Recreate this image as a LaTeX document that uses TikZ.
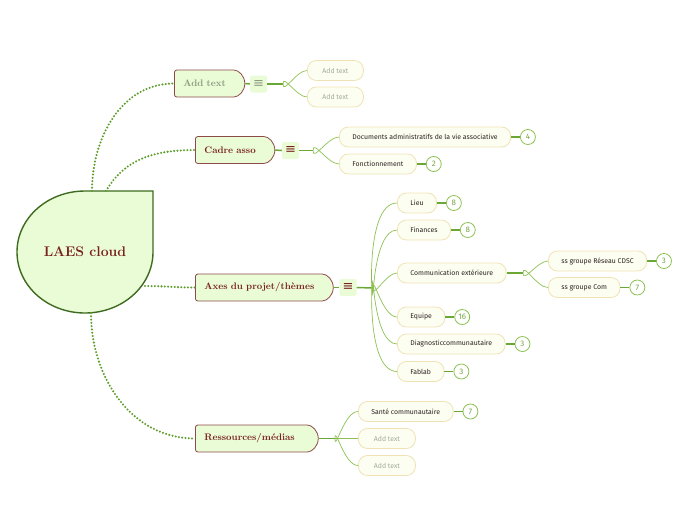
\documentclass[tikz,border=0pt]{standalone}
\usepackage{fontspec}
\setsansfont{Fira Sans}
\newfontfamily\symfont{DejaVu Sans}
\usetikzlibrary{positioning,shapes.misc}
\definecolor{leafgreen}{HTML}{E9FCD6}
\definecolor{darkred}{HTML}{7A1F1F}
\definecolor{boxred}{HTML}{8E4A4A}
\definecolor{rootgreen}{HTML}{3F6B20}
\definecolor{dotgreen}{HTML}{5E9E2B}
\definecolor{linegreen}{HTML}{8CC152}
\definecolor{creamfill}{HTML}{FBFEF1}
\definecolor{creamline}{HTML}{F0E2B4}
\definecolor{hintgray}{HTML}{A3AB98}
\definecolor{menugray}{HTML}{8C9A80}
\definecolor{inkbrown}{HTML}{2E2222}
\tikzset{
	mainbox/.style={rounded rectangle, rounded rectangle left arc=none, rounded corners=2.5pt,
			draw=boxred, fill=leafgreen, line width=0.8pt, minimum height=27pt, inner xsep=9pt,
			align=left, anchor=west, text=darkred,
			font=\fontsize{9.5}{11}\selectfont\bfseries}
}
\tikzset{
	leafbox/.style={draw=creamline, fill=creamfill, rounded corners=9pt, minimum height=20pt,
			inner xsep=13pt, line width=0.8pt, anchor=west, text=inkbrown,
			font=\sffamily\fontsize{6.9}{8}\selectfont},
	hintbox/.style={leafbox, text=hintgray}
}
\tikzset{
	countbadge/.style={circle, draw=linegreen, fill=white, line width=0.8pt, minimum size=15pt,
			inner sep=0pt, text=linegreen!85!black, font=\sffamily\fontsize{8}{9}\selectfont},
	menuicon/.style={fill=leafgreen, rounded corners=2pt, minimum size=17pt, inner sep=0pt,
			text=darkred, font=\symfont\fontsize{13}{13}\selectfont}
}
\tikzset{
	trunk/.style={draw=dotgreen, line width=2.3pt, line cap=round, dash pattern=on 0pt off 3.3pt},
	stub/.style={draw=dotgreen!75!linegreen, line width=1.5pt},
	twig/.style={draw=linegreen, line width=0.7pt}
}

\begin{document}
\begin{tikzpicture}[x=1pt,y=-1pt]
	\useasboundingbox (0,0) rectangle (696,520);

	% root
	\begin{scope}
		\filldraw[fill=leafgreen, draw=rootgreen, line width=1.4pt]
		(153,252) arc[start angle=0, end angle=90, x radius=68, y radius=61]
		arc[start angle=90, end angle=180, x radius=68, y radius=61]
		arc[start angle=180, end angle=270, x radius=68, y radius=61]
		-- (153,191) -- cycle;
		\node[text=darkred, font=\fontsize{14}{16}\selectfont\bfseries] (root) at (85,252) {LAES cloud};
		\coordinate (rootA) at (92,191);
		\coordinate (rootB) at (106,191);
		\coordinate (rootC) at (145,286);
		\coordinate (rootD) at (91,313);
	\end{scope}

	% main topics
	\begin{scope}
		\node[mainbox, text width=52pt, text=menugray] (addtext) at (174,83.5) {Add text};
		\node[menuicon, text=menugray] (addtextmenu) at (258.5,84) {≡};
		\node[mainbox, text width=61pt] (cadre) at (195,150) {Cadre asso};
		\node[menuicon] (cadremenu) at (290.5,150.5) {≡};
		\node[mainbox, text width=119pt] (axes) at (195,287.5) {Axes du projet/thèmes};
		\node[menuicon] (axesmenu) at (348,287.5) {≡};
		\node[mainbox, text width=104pt] (res) at (195,438.5) {Ressources/médias};

		\draw[trunk] (rootA) to[out=90, in=180] (addtext.west);
		\draw[trunk] (rootB) to[out=60, in=180] (cadre.west);
		\draw[trunk] (rootC) to[out=0, in=180] (axes.west);
		\draw[trunk] (rootD) to[out=-90, in=180] (res.west);
	\end{scope}

	% leaves
	\begin{scope}
		\node[hintbox, minimum width=56pt] (addA) at (307,70.5) {Add text};
		\node[hintbox, minimum width=56pt] (addB) at (307,97) {Add text};

		\node[leafbox] (docs) at (339,137) {Documents administratifs de la vie associative};
		\node[leafbox] (fonct) at (339,164) {Fonctionnement};

		\node[leafbox] (lieu) at (397,203) {Lieu};
		\node[leafbox] (fin) at (397,230) {Finances};
		\node[leafbox] (comm) at (397,273) {Communication extérieure};
		\node[leafbox] (equipe) at (397,317) {Equipe};
		\node[leafbox] (diag) at (397,344) {Diagnosticcommunautaire};
		\node[leafbox] (fablab) at (397,371.5) {Fablab};

		\node[leafbox] (cdsc) at (548,261) {ss groupe Réseau CDSC};
		\node[leafbox] (sscom) at (548,287.5) {ss groupe Com};

		\node[leafbox] (sante) at (358,411.5) {Santé communautaire};
		\node[hintbox, minimum width=57pt] (resA) at (358,438.5) {Add text};
		\node[hintbox, minimum width=57pt] (resB) at (358,465.5) {Add text};
	\end{scope}

	% forks
	\coordinate (addfork) at (283,84);
	\coordinate (cadrefork) at (313,150.5);
	\coordinate (axesfork) at (373,288);
	\coordinate (commfork) at (523,273);
	\coordinate (resfork) at (335,438.5);

	\draw[stub] (addtext.east) -- (addtextmenu.west);
	\draw[stub] (addtextmenu.east) -- (addfork);
	\draw[twig] (addfork) to[out=-90, in=180] (addA.west);
	\draw[twig] (addfork) to[out=90, in=180] (addB.west);

	\draw[stub] (cadre.east) -- (cadremenu.west);
	\draw[stub] (cadremenu.east) -- (cadrefork);
	\draw[twig] (cadrefork) to[out=-90, in=180] (docs.west);
	\draw[twig] (cadrefork) to[out=90, in=180] (fonct.west);

	\draw[stub] (axes.east) -- (axesmenu.west);
	\draw[stub] (axesmenu.east) -- (axesfork);
	\foreach \leaf in {lieu,fin,comm}
		\draw[twig] (axesfork) to[out=-90, in=180] (\leaf.west);
	\foreach \leaf in {equipe,diag,fablab}
		\draw[twig] (axesfork) to[out=90, in=180] (\leaf.west);

	\draw[stub] (comm.east) -- (commfork);
	\draw[twig] (commfork) to[out=-90, in=180] (cdsc.west);
	\draw[twig] (commfork) to[out=90, in=180] (sscom.west);

	\draw[stub] (res.east) -- (resfork);
	\draw[twig] (resfork) to[out=-90, in=180] (sante.west);
	\draw[twig] (resfork) -- (resA.west);
	\draw[twig] (resfork) to[out=90, in=180] (resB.west);

	% counts
	\node[countbadge, right=9pt of docs] (docsN) {4};
	\node[countbadge, right=9pt of fonct] (fonctN) {2};
	\node[countbadge, right=9pt of lieu] (lieuN) {8};
	\node[countbadge, right=9pt of fin] (finN) {8};
	\node[countbadge, right=9pt of equipe] (equipeN) {16};
	\node[countbadge, right=9pt of diag] (diagN) {3};
	\node[countbadge, right=9pt of fablab] (fablabN) {3};
	\node[countbadge, right=9pt of cdsc] (cdscN) {3};
	\node[countbadge, right=9pt of sscom] (sscomN) {7};
	\node[countbadge, right=9pt of sante] (santeN) {7};
	\foreach \leaf in {docs,fonct,lieu,fin,equipe,diag,fablab,cdsc,sscom,sante}
		\draw[stub] (\leaf.east) -- (\leaf N.west);

\end{tikzpicture}
\end{document}
